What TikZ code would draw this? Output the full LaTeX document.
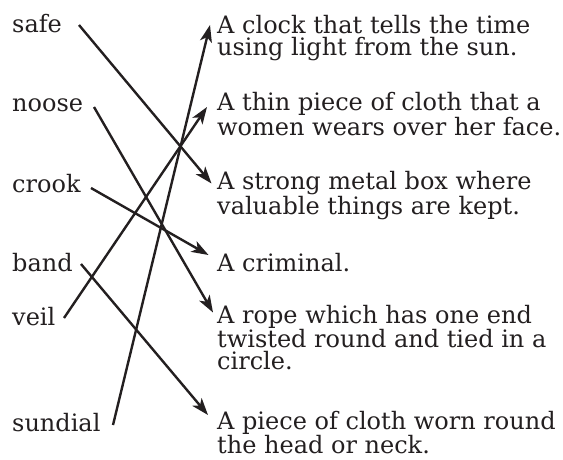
\documentclass[tikz,border=0pt]{standalone}
\usepackage{fontspec}
\setmainfont{DejaVu Serif}
\usetikzlibrary{arrows.meta}
\definecolor{ink}{RGB}{35,31,32}
\begin{document}
\begin{tikzpicture}[x=1pt,y=-1pt,
  word/.style={anchor=base west,inner sep=0pt,text=ink,font=\fontsize{24}{21.7}\selectfont},
  defn/.style={anchor=base west,inner sep=0pt,align=left,text=ink,font=\fontsize{24}{21.7}\selectfont},
  link/.style={draw=ink,line width=2.4pt,-{Stealth[length=17pt,width=12pt,inset=4.5pt]}}]
\useasboundingbox (0,0) rectangle (563,459);
% left words
\node[word] (safe)    at (12,32)  {safe};
\node[word] (noose)   at (12,111.5) {noose};
\node[word] (crook)   at (12,192) {crook};
\node[word] (band)    at (12,271.5) {band};
\node[word] (veil)    at (12,325) {veil};
\node[word] (sundial) at (12,431.5) {sundial};
% right definitions (anchored at the baseline of their last line)
\node[defn] (d1) at (217,55)    {A clock that tells the time\\using light from the sun.};
\node[defn] (d2) at (217,135)   {A thin piece of cloth that a\\women wears over her face.};
\node[defn] (d3) at (217,214)   {A strong metal box where\\valuable things are kept.};
\node[defn] (d4) at (217,271.7) {A criminal.};
\node[defn] (d5) at (217,369.5) {A rope which has one end\\twisted round and tied in a\\circle.};
\node[defn] (d6) at (217,453.5) {A piece of cloth worn round\\the head or neck.};
% connector ends
\coordinate (s1) at (79,25);   \coordinate (e1) at (211.5,183.5);
\coordinate (s2) at (94,107);  \coordinate (e2) at (213,312.5);
\coordinate (s3) at (91,188);  \coordinate (e3) at (208.5,255);
\coordinate (s4) at (81,264);  \coordinate (e4) at (208,415);
\coordinate (s5) at (64,318);  \coordinate (e5) at (207,107);
\coordinate (s6) at (113,425); \coordinate (e6) at (210,25);
\draw[link] (s1) -- (e1);
\draw[link] (s2) -- (e2);
\draw[link] (s3) -- (e3);
\draw[link] (s4) -- (e4);
\draw[link] (s5) -- (e5);
\draw[link] (s6) -- (e6);
\end{tikzpicture}
\end{document}
